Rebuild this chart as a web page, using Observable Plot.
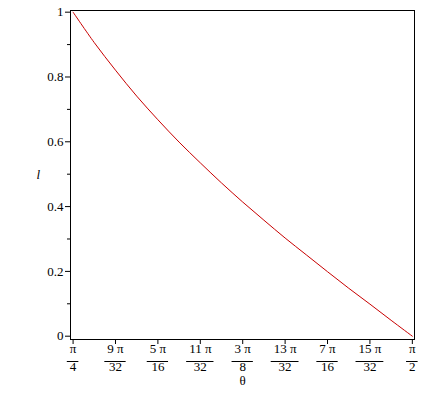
<!DOCTYPE html>
<html>
<head>
<meta charset="utf-8">
<script src="https://cdn.jsdelivr.net/npm/d3@7"></script>
<script src="https://cdn.jsdelivr.net/npm/@observablehq/plot@0.6"></script>
<style>
  html, body { margin: 0; padding: 0; background: #fff; }
</style>
</head>
<body>
<div id="chart"></div>
<script>
// Sample angles, in units of pi/64
const thetaSixtyFourths = [16, 17, 18, 19, 20, 21, 22, 23, 24, 25, 26, 27, 28, 29, 30, 31, 32];
// l values
const lValues = [1.00, 0.906, 0.821, 0.741, 0.668, 0.599, 0.535, 0.473, 0.414, 0.358, 0.303, 0.251, 0.199, 0.148, 0.099, 0.049, 0.00];

// x-axis ticks, in units of pi/32
const tickThirtySeconds = [8, 9, 10, 11, 12, 13, 14, 15, 16];
const tickNumerators = ["π", "9 π", "5 π", "11 π", "3 π", "13 π", "7 π", "15 π", "π"];
const tickDenominators = ["4", "32", "16", "32", "8", "32", "16", "32", "2"];

// y-axis ticks
const yMajorTicks = [0, 0.2, 0.4, 0.6, 0.8, 1];
const yMinorTicks = [0.1, 0.3, 0.5, 0.7, 0.9];

const curve = thetaSixtyFourths.map((k, i) => ({theta: k * Math.PI / 64, l: lValues[i]}));
const ticks = tickThirtySeconds.map((k, i) => ({
  theta: k * Math.PI / 32, num: tickNumerators[i], den: tickDenominators[i]
}));

const FONT = "13px 'Liberation Serif'";
const canvas = document.createElement("canvas").getContext("2d");
canvas.font = FONT;
const textW = s => canvas.measureText(s).width;

// fraction bars under the numerators, positioned with Plot's x scale
function fractionBars(index, scales, values, dimensions) {
  const g = d3.create("svg:g").attr("stroke", "black").attr("stroke-width", 1);
  const yBar = dimensions.height - dimensions.marginBottom + 22.5;
  for (const t of ticks) {
    const cx = scales.x(t.theta);
    const w = Math.max(textW(t.num), textW(t.den)) + 5;
    g.append("line")
      .attr("x1", cx - w / 2).attr("x2", cx + w / 2)
      .attr("y1", yBar).attr("y2", yBar);
  }
  return g.node();
}

const plot = Plot.plot({
  width: 435,
  height: 406,
  marginLeft: 70,
  marginRight: 21,
  marginTop: 10,
  marginBottom: 67,
  style: {fontFamily: "'Liberation Serif', serif", fontSize: "13px", color: "black", background: "white"},
  x: {domain: [Math.PI / 4 - 0.006, Math.PI / 2 + 0.005]},
  y: {domain: [-0.0102, 1.0052]},
  marks: [
    Plot.axisY(yMajorTicks, {tickSize: 5, tickPadding: 2, tickFormat: d3.format("~g"), label: null}),
    Plot.axisY(yMinorTicks, {tickSize: 3, tickFormat: () => "", label: null}),
    Plot.axisX(ticks.map(d => d.theta), {tickSize: 5, tickFormat: () => "", label: null}),
    Plot.frame({stroke: "black"}),
    Plot.line(curve, {x: "theta", y: "l", stroke: "#c80000", strokeWidth: 1, curve: "catmull-rom"}),
    Plot.text(ticks, {x: "theta", text: "num", frameAnchor: "bottom", dy: 13, fontSize: 13}),
    Plot.text(ticks, {x: "theta", text: "den", frameAnchor: "bottom", dy: 31, fontSize: 13}),
    fractionBars,
    Plot.text(["θ"], {frameAnchor: "bottom", dy: 45, fontSize: 13}),
    Plot.text(["l"], {frameAnchor: "left", dx: -34, fontSize: 13, fontStyle: "italic"})
  ]
});
document.getElementById("chart").appendChild(plot);
</script>
</body>
</html>
